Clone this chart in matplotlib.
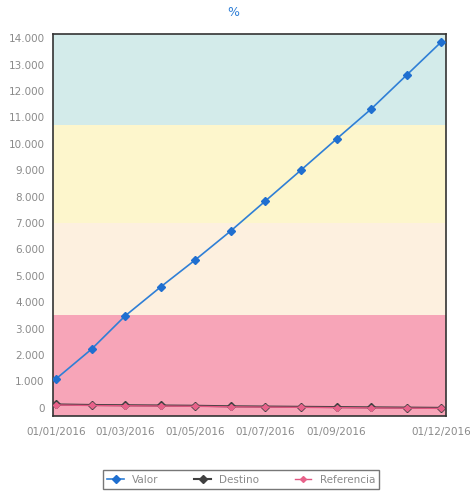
import matplotlib
matplotlib.use("Agg")
import matplotlib.pyplot as plt
import matplotlib.dates as mdates
from matplotlib.ticker import FuncFormatter
import numpy as np
import datetime as dt

months = [dt.date(2016, m, 1) for m in range(1, 13)]
valor = [1100, 2230, 3480, 4580, 5600, 6700, 7830, 9000, 10180, 11310, 12600, 13850]
destino = [130, 110, 100, 90, 80, 60, 50, 40, 30, 20, 10, 0]
referencia = [110, 90, 80, 70, 60, 40, 30, 20, 10, 0, -10, -20]
tick_dates = [dt.date(2016, 1, 1), dt.date(2016, 3, 1), dt.date(2016, 5, 1),
              dt.date(2016, 7, 1), dt.date(2016, 9, 1), dt.date(2016, 12, 1)]
bands = [(-300, 3500, "#f7a5b8"), (3500, 7000, "#fdf0df"),
         (7000, 10700, "#fdf6cc"), (10700, 14150, "#d3ebea")]

fig = plt.figure(figsize=(4.7, 4.95), dpi=100)
ax = fig.add_axes([0.113, 0.160, 0.836, 0.771])

for lo, hi, c in bands:
    ax.axhspan(lo, hi, color=c, zorder=0, lw=0)

ax.plot(months, valor, color="#2f7fd6", lw=1.2, marker="D", ms=4,
        mfc="#1f6fd0", mec="#1f6fd0", label="Valor", zorder=3)
ax.plot(months, destino, color="#404040", lw=1.5, marker="D", ms=4.5,
        mfc="#404040", mec="#404040", label="Destino", zorder=3)
ax.plot(months, referencia, color="#e05580", lw=1.0, marker="D", ms=3,
        mfc="#e8628a", mec="#e8628a", label="Referencia", zorder=4)

ax.set_ylim(-300, 14150)
ax.set_xlim(mdates.date2num(dt.date(2016, 1, 1)) - 2.6,
            mdates.date2num(dt.date(2016, 12, 1)) + 4.3)
ax.set_yticks(np.arange(0, 14001, 1000))
ax.yaxis.set_major_formatter(FuncFormatter(lambda v, p: f"{int(v):,}".replace(",", ".")))
ax.set_xticks(tick_dates)
ax.set_xticklabels([d.strftime("%d/%m/%Y") for d in tick_dates])
ax.tick_params(axis="y", length=0, labelsize=7.5, colors="#8a8a8a", pad=6)
ax.tick_params(axis="x", length=0, labelsize=7.5, colors="#8a8a8a", pad=8)
for s in ax.spines.values():
    s.set_color("#333333")
    s.set_linewidth(1.2)

fig.text(0.496, 0.975, "%", color="#2f7fd6", fontsize=9, ha="center", va="center")

leg = fig.legend(loc="center", bbox_to_anchor=(0.513, 0.031), ncol=3, fontsize=7.5,
                 frameon=True, fancybox=False, edgecolor="#555555",
                 handlelength=1.6, columnspacing=3.4, borderpad=0.4)
for t in leg.get_texts():
    t.set_color("#8a8a8a")

fig.savefig("out.png", dpi=100)
